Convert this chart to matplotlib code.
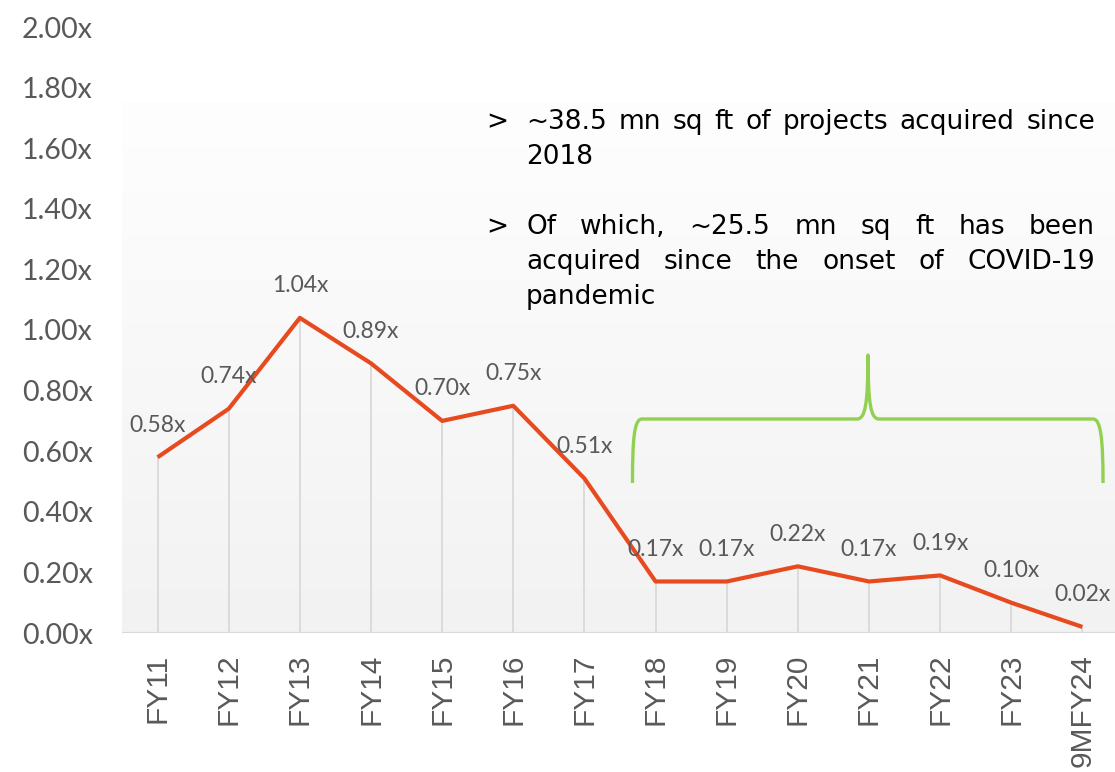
import numpy as np
import matplotlib
matplotlib.use("Agg")
import matplotlib.pyplot as plt
from matplotlib.transforms import Affine2D
from matplotlib.path import Path
from matplotlib.patches import PathPatch
from matplotlib.colors import LinearSegmentedColormap

# ---- data ----
categories = ["FY11", "FY12", "FY13", "FY14", "FY15", "FY16", "FY17",
              "FY18", "FY19", "FY20", "FY21", "FY22", "FY23", "9MFY24"]
values = [0.58, 0.74, 1.04, 0.89, 0.70, 0.75, 0.51,
          0.17, 0.17, 0.22, 0.17, 0.19, 0.10, 0.02]
y_ticks = [0.0, 0.2, 0.4, 0.6, 0.8, 1.0, 1.2, 1.4, 1.6, 1.8, 2.0]
para1 = ["~38.5 mn sq ft of projects acquired since", "2018"]
para2 = ["Of which, ~25.5 mn sq ft has been",
         "acquired since the onset of COVID-19", "pandemic"]

W, H = 1115, 772
fig = plt.figure(figsize=(W / 100, H / 100), dpi=100)
fig.patch.set_facecolor("white")
px = Affine2D().scale(1 / W, -1 / H).translate(0, 1) + fig.transFigure

ax = fig.add_axes([122 / W, (H - 633) / H, 996 / W, (633 - 27) / H])
ax.set_xlim(-0.5, 13.5)
ax.set_ylim(0, 2.0)
ax.set_facecolor("none")

# gradient background
cmap = LinearSegmentedColormap.from_list("g", ["#f2f2f2", "#fefefe"])
grad = np.linspace(0, 1, 256).reshape(-1, 1)
ax.imshow(grad, extent=[-0.52, 13.6, 0, 1.75], origin="lower", aspect="auto",
          cmap=cmap, zorder=0, interpolation="bicubic")

x = np.arange(len(categories))
# drop lines
ax.vlines(x, 0, values, colors="#d9d9d9", lw=1.3, zorder=1)
# line
ax.plot(x, values, color="#E84A1F", lw=3.0, zorder=3, solid_capstyle="butt")

for xi, v in zip(x, values):
    ax.annotate(f"{v:.2f}x", (xi, v), xytext=(0, 23), textcoords="offset points",
                ha="center", va="center", fontsize=16.5, color="#595959",
                family="Lato", zorder=4)

for s in ax.spines.values():
    s.set_visible(False)
ax.axhline(0, color="#d9d9d9", lw=1.6, zorder=2)

ax.set_yticks(y_ticks)
ax.set_yticklabels([f"{t:.2f}x" for t in y_ticks], family="Lato", fontsize=20.5,
                   color="#595959")
ax.set_xticks(x)
ax.set_xticklabels(categories, rotation=90, family="Liberation Sans",
                   fontsize=21.5, color="#595959")
ax.tick_params(axis="y", length=0, pad=21)
ax.tick_params(axis="x", length=0, pad=15)

# green brace (pixel coordinates)
verts = [(632.5, 483), (632.5, 440), (634, 419), (642, 419),
         (857, 419),
         (865, 419), (868, 405), (868, 355),
         (868, 405), (871, 419), (879, 419),
         (1093, 419),
         (1101, 419), (1103, 440), (1103, 483)]
codes = [Path.MOVETO, Path.CURVE4, Path.CURVE4, Path.CURVE4,
         Path.LINETO,
         Path.CURVE4, Path.CURVE4, Path.CURVE4,
         Path.CURVE4, Path.CURVE4, Path.CURVE4,
         Path.LINETO,
         Path.CURVE4, Path.CURVE4, Path.CURVE4]
fig.patches.append(PathPatch(Path(verts, codes), transform=px, fill=False,
                             edgecolor="#92D050", lw=2.4, capstyle="butt",
                             joinstyle="round"))

# justified text
renderer = fig.canvas.get_renderer()
tfam = "DejaVu Sans"
x0, x1 = 526, 1095

# fit font size so that the first line fills the column naturally
probe = fig.text(0, 0, para1[0], fontsize=18, family=tfam)
wprobe = probe.get_window_extent(renderer).width
probe.remove()
tfs = min(19.0, 18 * (x1 - x0) / wprobe)


def put_para(lines, ys):
    for li, (line, y) in enumerate(zip(lines, ys)):
        words = line.split(" ")
        last = li == len(lines) - 1
        if last or len(words) == 1:
            fig.text(x0, y, line, transform=px, fontsize=tfs, family=tfam,
                     color="black", va="center", ha="left")
            continue
        ts = [fig.text(0, y, w, transform=px, fontsize=tfs, family=tfam,
                       color="black", va="center", ha="left") for w in words]
        widths = [t.get_window_extent(renderer).width for t in ts]
        gap = (x1 - x0 - sum(widths)) / (len(words) - 1)
        cx = x0
        for t, w in zip(ts, widths):
            t.set_x(cx)
            cx += w + gap


fig.text(497, 122, ">", transform=px, fontsize=tfs, family=tfam, va="center",
         ha="center", color="black")
fig.text(497, 227, ">", transform=px, fontsize=tfs, family=tfam, va="center",
         ha="center", color="black")
put_para(para1, [122, 157])
put_para(para2, [227, 262, 297])

fig.savefig("out.png", dpi=100)
